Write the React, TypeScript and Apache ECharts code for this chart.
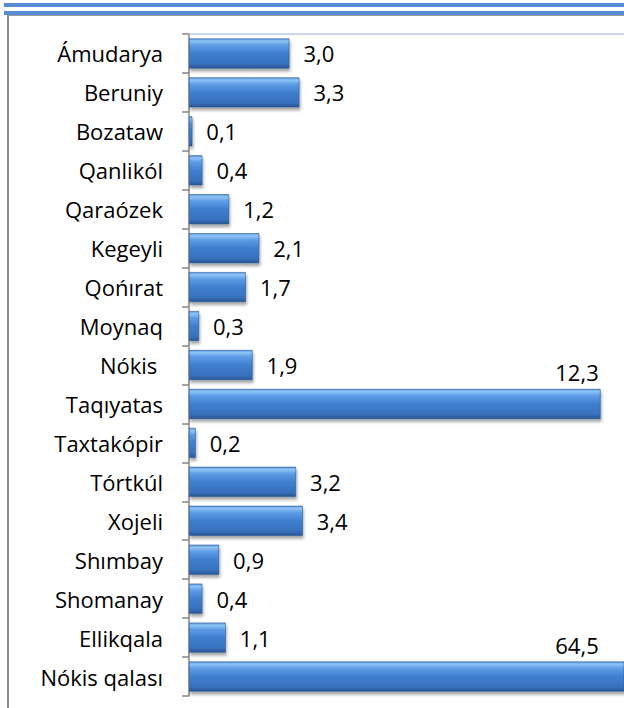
import React, { useEffect, useRef } from "react";
import * as echarts from "echarts";

const categories = [
  "Ámudarya",
  "Beruniy",
  "Bozataw",
  "Qanlikól",
  "Qaraózek",
  "Kegeyli",
  "Qońırat",
  "Moynaq",
  "Nókis ",
  "Taqıyatas",
  "Taxtakópir",
  "Tórtkúl",
  "Xojeli",
  "Shımbay",
  "Shomanay",
  "Ellikqala",
  "Nókis qalası",
];

const values = [3.0, 3.3, 0.1, 0.4, 1.2, 2.1, 1.7, 0.3, 1.9, 12.3, 0.2, 3.2, 3.4, 0.9, 0.4, 1.1, 64.5];

const axisMax = 13;
const FONT = "Open Sans";

export default function App() {
  const ref = useRef<HTMLDivElement>(null);

  useEffect(() => {
    document.body.style.margin = "0";
    if (!ref.current) return;
    const chart = echarts.init(ref.current, undefined, { renderer: "svg" });

    const barColor = new echarts.graphic.LinearGradient(0, 0, 0, 1, [
      { offset: 0, color: "#5a97e0" },
      { offset: 0.08, color: "#90c4f6" },
      { offset: 0.22, color: "#5e9de6" },
      { offset: 0.5, color: "#3f7fd0" },
      { offset: 0.85, color: "#3871bd" },
      { offset: 1, color: "#2a5590" },
    ]);

    const data = values.map((v) => {
      const item: any = { value: v };
      if (v > 10) {
        item.label = {
          position: [388, -17],
          align: "center",
          verticalAlign: "middle",
        };
      }
      return item;
    });

    chart.setOption({
      animation: false,
      backgroundColor: "#ffffff",
      grid: { left: 189, right: 0, top: 34, bottom: 12, containLabel: false },
      xAxis: {
        type: "value",
        position: "top",
        min: 0,
        max: axisMax,
        axisLine: { show: true, lineStyle: { color: "#b9c9e6", width: 1.5 } },
        axisTick: { show: false },
        axisLabel: { show: false },
        splitLine: { show: false },
      },
      yAxis: {
        type: "category",
        inverse: true,
        data: categories,
        axisLine: { show: true, lineStyle: { color: "#868686", width: 1.5 } },
        axisTick: { show: true, length: 7, lineStyle: { color: "#868686", width: 1.5 } },
        axisLabel: {
          margin: 26,
          color: "#000000",
          fontFamily: FONT,
          fontSize: 22,
        },
      },
      series: [
        {
          type: "bar",
          data,
          barWidth: 30,
          clip: true,
          itemStyle: {
            color: barColor,
            borderColor: "#2c5b99",
            borderWidth: 0.6,
            shadowColor: "rgba(0,0,0,0.35)",
            shadowBlur: 3,
            shadowOffsetX: 1,
            shadowOffsetY: 3,
          },
          label: {
            show: true,
            position: "right",
            distance: 14,
            color: "#000000",
            fontFamily: FONT,
            fontSize: 22,
            formatter: (p: any) => p.value.toFixed(1).replace(".", ","),
          },
        },
      ],
      graphic: [
        { type: "rect", shape: { x: 4, y: 3, width: 620, height: 4 }, style: { fill: "#558ed5" } },
        { type: "rect", shape: { x: 4, y: 11, width: 620, height: 4 }, style: { fill: "#558ed5" } },
        { type: "rect", shape: { x: 7, y: 15, width: 617, height: 1 }, style: { fill: "#9a9a9a" } },
        { type: "rect", shape: { x: 7, y: 15, width: 2, height: 693 }, style: { fill: "#8c8c8c" } },
      ],
    });

    return () => {
      chart.dispose();
    };
  }, []);

  return (
    <div
      ref={ref}
      style={{ position: "absolute", left: 0, top: 0, width: 624, height: 708 }}
    />
  );
}
